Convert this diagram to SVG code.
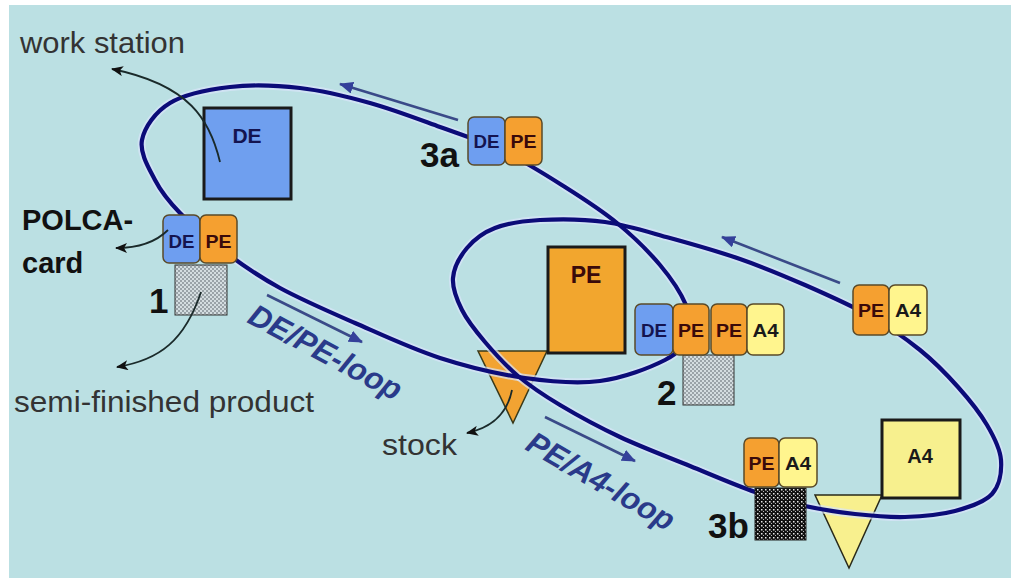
<svg xmlns="http://www.w3.org/2000/svg" width="1011" height="578" viewBox="0 0 1011 578">
<defs>
<style>
.loop{fill:none;stroke:#0b0b78;stroke-width:4.2}
.halo{fill:none;stroke:#d8e4fa;stroke-width:8;opacity:.7}
.card{stroke:#5a4a28;stroke-width:1.5}
.de{fill:#6e9ef0}.pe{fill:#f5a030}.a4{fill:#fff58e}
.ct{font-family:"Liberation Sans Narrow","Liberation Sans",Arial,sans-serif;font-weight:bold;font-size:19px;text-anchor:middle}
.tde{fill:#141450}.tpe{fill:#3a0a0a}.ta4{fill:#1a1a1a}
.box{stroke:#1a1a1a;stroke-width:3}
.num{font-family:"Liberation Sans",Arial,sans-serif;font-weight:bold;font-size:35px;fill:#111}
.lbl{font-family:"Liberation Sans",Arial,sans-serif;font-size:29px;fill:#333}
.bl{font-family:"Liberation Sans",Arial,sans-serif;font-size:29px;font-weight:bold;fill:#111}
.loopt{font-family:"Liberation Sans",Arial,sans-serif;font-size:31px;font-weight:bold;font-style:italic;fill:#2a3a8a}
.ann{fill:none;stroke:#1a2a2a;stroke-width:1.8}
.dir{fill:none;stroke:#3a4a88;stroke-width:2.6}
</style>
<pattern id="pl" width="4" height="4" patternUnits="userSpaceOnUse">
<rect width="4" height="4" fill="#d4dde0"/>
<rect width="2" height="2" fill="#9aa3a8"/>
<rect x="2" y="2" width="2" height="2" fill="#9aa3a8"/>
</pattern>
<pattern id="pd" width="4" height="4" patternUnits="userSpaceOnUse">
<rect width="4" height="4" fill="#111"/>
<rect x="1" y="1" width="1.5" height="1.5" fill="#e8e8e8"/>
<rect x="3" y="3" width="1" height="1" fill="#bbb"/>
</pattern>
<marker id="ah" viewBox="0 0 12 10" refX="11" refY="5" markerWidth="12" markerHeight="10" markerUnits="userSpaceOnUse" orient="auto">
<path d="M0,0 L12,5 L0,10 L3,5 Z" fill="#111"/>
</marker>
<marker id="bh" viewBox="0 0 14 12" refX="13" refY="6" markerWidth="14" markerHeight="12" markerUnits="userSpaceOnUse" orient="auto">
<path d="M0,0 L14,6 L0,12 Z" fill="#34409a"/>
</marker>
</defs>
<rect width="1011" height="578" fill="#ffffff"/>
<rect x="9" y="5" width="1002" height="573" fill="#bbe0e3"/>

<g id="stock-triangle"><polygon points="478,351 547,351 513,423" fill="#f2a332" stroke="#3a3a1a" stroke-width="1.5"/></g>
<g id="a4-triangle"><polygon points="815,495 882,495 849,568" fill="#f8f08e" stroke="#2a2a1a" stroke-width="1.5"/></g>

<g id="connectors">
<path class="halo" d="M142,140 C144.5,127.17 155.33,111.83 170,103 C184.67,94.17 208.33,89.5 230,87 C251.67,84.5 276.67,85.33 300,88 C323.33,90.67 346.67,96.5 370,103 C393.33,109.5 417.5,118.83 440,127 C462.5,135.17 484.17,142 505,152 C525.83,162 546.33,175.17 565,187 C583.67,198.83 601.17,210 617,223 C632.83,236 648.5,251.33 660,265 C671.5,278.67 681,293.33 686,305 C691,316.67 693.5,325.83 690,335 C686.5,344.17 680,352.33 665,360 C650,367.67 623.33,378 600,381 C576.67,384 551.67,381.83 525,378 C498.33,374.17 468.33,367.17 440,358 C411.67,348.83 381.67,334.67 355,323 C328.33,311.33 301.67,299.83 280,288 C258.33,276.17 241.67,264.5 225,252 C208.33,239.5 191.67,225 180,213 C168.33,201 161.33,192.17 155,180 C148.67,167.83 139.5,152.83 142,140 Z"/>
<path class="halo" d="M453,278 C453.830,267.67 460,256.33 467,248 C474,239.67 482.83,232.67 495,228 C507.17,223.33 521.67,221 540,220 C558.33,219 583.33,219 605,222 C626.67,225 647.5,231.83 670,238 C692.5,244.17 717.5,251.17 740,259 C762.5,266.83 783.33,275.5 805,285 C826.67,294.5 850.83,305.17 870,316 C889.17,326.83 905.33,338.17 920,350 C934.67,361.83 946.83,374.5 958,387 C969.17,399.5 979.83,412.83 987,425 C994.17,437.17 1000.17,448.5 1001,460 C1001.83,471.5 999.67,485.5 992,494 C984.33,502.5 969.5,507.17 955,511 C940.5,514.83 921.67,516.5 905,517 C888.33,517.5 871.67,515.83 855,514 C838.33,512.17 821.67,509.67 805,506 C788.33,502.33 774.17,498.67 755,492 C735.83,485.33 712.5,475.17 690,466 C667.5,456.83 641.67,447.17 620,437 C598.33,426.83 577,415.17 560,405 C543,394.83 530.5,386.5 518,376 C505.5,365.5 494.33,353 485,342 C475.67,331 467.33,320.67 462,310 C456.67,299.33 452.17,288.33 453,278 Z"/>
<path id="de-pe-loop" class="loop" d="M142,140 C144.5,127.17 155.33,111.83 170,103 C184.67,94.17 208.33,89.5 230,87 C251.67,84.5 276.67,85.33 300,88 C323.33,90.67 346.67,96.5 370,103 C393.33,109.5 417.5,118.83 440,127 C462.5,135.17 484.17,142 505,152 C525.83,162 546.33,175.17 565,187 C583.67,198.83 601.17,210 617,223 C632.83,236 648.5,251.33 660,265 C671.5,278.67 681,293.33 686,305 C691,316.67 693.5,325.83 690,335 C686.5,344.17 680,352.33 665,360 C650,367.67 623.33,378 600,381 C576.67,384 551.67,381.83 525,378 C498.33,374.17 468.33,367.17 440,358 C411.67,348.83 381.67,334.67 355,323 C328.33,311.33 301.67,299.83 280,288 C258.33,276.17 241.67,264.5 225,252 C208.33,239.5 191.67,225 180,213 C168.33,201 161.33,192.17 155,180 C148.67,167.83 139.5,152.83 142,140 Z"/>
<path id="pe-a4-loop" class="loop" d="M453,278 C453.83,267.67 460,256.33 467,248 C474,239.67 482.83,232.67 495,228 C507.17,223.33 521.67,221 540,220 C558.33,219 583.33,219 605,222 C626.67,225 647.5,231.83 670,238 C692.5,244.17 717.5,251.17 740,259 C762.5,266.83 783.33,275.5 805,285 C826.67,294.5 850.83,305.17 870,316 C889.17,326.83 905.33,338.17 920,350 C934.67,361.83 946.83,374.5 958,387 C969.17,399.5 979.83,412.83 987,425 C994.17,437.17 1000.17,448.5 1001,460 C1001.83,471.5 999.67,485.5 992,494 C984.33,502.5 969.5,507.17 955,511 C940.5,514.83 921.67,516.5 905,517 C888.33,517.5 871.67,515.83 855,514 C838.33,512.17 821.67,509.67 805,506 C788.33,502.33 774.17,498.67 755,492 C735.83,485.33 712.5,475.17 690,466 C667.5,456.83 641.67,447.17 620,437 C598.33,426.83 577,415.17 560,405 C543,394.83 530.5,386.5 518,376 C505.5,365.5 494.33,353 485,342 C475.67,331 467.33,320.67 462,310 C456.67,299.33 452.17,288.33 453,278 Z"/>
<path class="dir" d="M458,120 L340,84" marker-end="url(#bh)"/>
<path class="dir" d="M267,295 L362,342" marker-end="url(#bh)"/>
<path class="dir" d="M545,417 L635,461" marker-end="url(#bh)"/>
<path class="dir" d="M840,283 L722,237" marker-end="url(#bh)"/>
</g>

<g id="de-station">
<rect class="box" x="204" y="108" width="87" height="91" fill="#6f9fef"/>
<text class="ct tde" x="247" y="143" style="font-size:21px">DE</text>
</g>
<g id="pe-station">
<rect class="box" x="548" y="247" width="77" height="106" fill="#f2a62e"/>
<text class="ct tpe" x="586" y="283" style="font-size:23px">PE</text>
</g>
<g id="a4-station">
<rect class="box" x="882" y="420" width="78" height="78" fill="#f7f08e"/>
<text class="ct ta4" x="920" y="463" style="font-size:20px">A4</text>
</g>

<g id="wip-1">
<rect x="175" y="265" width="52" height="50" fill="url(#pl)" stroke="#333" stroke-width="1"/>
<rect class="card de" x="163" y="215" width="37" height="48" rx="6"/>
<rect class="card pe" x="200" y="215" width="37" height="48" rx="6"/>
<text class="ct tde" x="181.5" y="248" textLength="26" lengthAdjust="spacingAndGlyphs">DE</text>
<text class="ct tpe" x="218.5" y="248" textLength="26" lengthAdjust="spacingAndGlyphs">PE</text>
<text class="num" x="149" y="313">1</text>
</g>

<g id="card-3a">
<rect class="card de" x="468" y="117" width="37" height="48" rx="6"/>
<rect class="card pe" x="505" y="117" width="37" height="48" rx="6"/>
<text class="ct tde" x="486.5" y="148" textLength="26" lengthAdjust="spacingAndGlyphs">DE</text>
<text class="ct tpe" x="523.5" y="148" textLength="26" lengthAdjust="spacingAndGlyphs">PE</text>
<text class="num" x="420" y="167">3a</text>
</g>

<g id="wip-2">
<rect x="683" y="355" width="51" height="50" fill="url(#pl)" stroke="#333" stroke-width="1"/>
<rect class="card de" x="635" y="304" width="38" height="51" rx="6"/>
<rect class="card pe" x="673" y="304" width="36" height="51" rx="6"/>
<rect class="card pe" x="711" y="304" width="36" height="51" rx="6"/>
<rect class="card a4" x="747" y="304" width="37" height="51" rx="6"/>
<text class="ct tde" x="654" y="337" textLength="26" lengthAdjust="spacingAndGlyphs">DE</text>
<text class="ct tpe" x="691" y="337" textLength="26" lengthAdjust="spacingAndGlyphs">PE</text>
<text class="ct tpe" x="729" y="337" textLength="26" lengthAdjust="spacingAndGlyphs">PE</text>
<text class="ct ta4" x="765.5" y="337" textLength="26" lengthAdjust="spacingAndGlyphs">A4</text>
<text class="num" x="657" y="405">2</text>
</g>

<g id="card-pe-a4">
<rect class="card pe" x="853" y="285" width="36" height="50" rx="6"/>
<rect class="card a4" x="889" y="285" width="38" height="50" rx="6"/>
<text class="ct tpe" x="871" y="317" textLength="26" lengthAdjust="spacingAndGlyphs">PE</text>
<text class="ct ta4" x="908" y="317" textLength="26" lengthAdjust="spacingAndGlyphs">A4</text>
</g>

<g id="wip-3b">
<rect x="755" y="488" width="51" height="52" fill="url(#pd)" stroke="#222" stroke-width="1"/>
<rect class="card pe" x="744" y="438" width="35" height="49" rx="6"/>
<rect class="card a4" x="779" y="438" width="38" height="49" rx="6"/>
<text class="ct tpe" x="761.5" y="470" textLength="26" lengthAdjust="spacingAndGlyphs">PE</text>
<text class="ct ta4" x="798" y="470" textLength="26" lengthAdjust="spacingAndGlyphs">A4</text>
<text class="num" x="708" y="538">3b</text>
</g>

<g id="labels">
<text class="lbl" x="20" y="53" textLength="165" lengthAdjust="spacingAndGlyphs">work station</text>
<text class="bl" x="22" y="230">POLCA-</text>
<text class="bl" x="22" y="273">card</text>
<text class="lbl" x="14" y="412" textLength="300" lengthAdjust="spacingAndGlyphs">semi-finished product</text>
<text class="lbl" x="382" y="455" textLength="75" lengthAdjust="spacingAndGlyphs">stock</text>
<text class="loopt" x="246" y="322" transform="rotate(28 246 322)">DE/PE-loop</text>
<text class="loopt" x="524" y="449" transform="rotate(30 524 449)">PE/A4-loop</text>
</g>

<g id="annotations">
<path class="ann" d="M220,162 C210,120 190,85 112,69" marker-end="url(#ah)"/>
<path class="ann" d="M168,230 Q150,248 116,248" marker-end="url(#ah)"/>
<path class="ann" d="M201,292 C185,340 160,360 117,367" marker-end="url(#ah)"/>
<path class="ann" d="M512,390 Q505,425 467,433" marker-end="url(#ah)"/>
</g>
</svg>
